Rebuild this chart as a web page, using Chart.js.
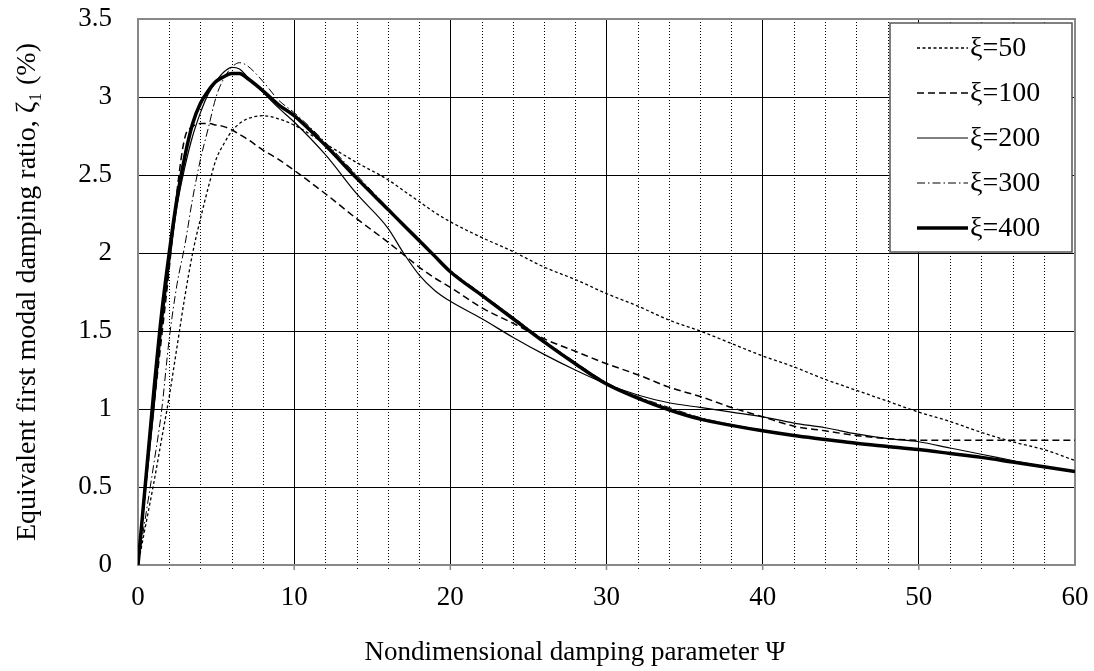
<!DOCTYPE html>
<html>
<head>
<meta charset="utf-8">
<script src="https://cdn.jsdelivr.net/npm/chart.js@4"></script>
<style>
  body { margin: 0; background: #fff; }
  #wrap { width: 1094px; height: 671px; }
</style>
</head>
<body>
<div id="wrap"><canvas id="chart" width="1094" height="671"></canvas></div>
<script>
// nondimensional damping parameter (x values shared by every curve)
const psi = [0, 0.5, 1, 1.5, 2, 2.5, 3, 3.5, 4, 4.5, 5, 5.5, 6, 6.5, 7, 8, 9, 10,
             12, 14, 16, 17, 18, 19, 20, 22, 24, 26, 28, 30, 32, 34, 36, 38, 40,
             42, 44, 46, 48, 50, 52, 54, 56, 58, 60];

// equivalent first modal damping ratio (%)
const zeta50  = [0, 0.26, 0.52, 0.8, 1.08, 1.4, 1.72, 2.0, 2.22, 2.42, 2.6, 2.7, 2.78, 2.83, 2.86, 2.88, 2.86, 2.82,
                 2.70, 2.58, 2.47, 2.40, 2.33, 2.26, 2.20, 2.10, 2.01, 1.91, 1.83, 1.74, 1.66, 1.57, 1.50, 1.42, 1.34,
                 1.27, 1.19, 1.12, 1.05, 0.98, 0.92, 0.85, 0.79, 0.74, 0.67];
const zeta100 = [0, 0.5, 1.0, 1.45, 1.9, 2.4, 2.74, 2.81, 2.83, 2.83, 2.82, 2.81, 2.79, 2.76, 2.73, 2.66, 2.60, 2.53,
                 2.38, 2.22, 2.07, 1.99, 1.91, 1.84, 1.78, 1.65, 1.55, 1.45, 1.37, 1.29, 1.22, 1.14, 1.08, 1.01, 0.95,
                 0.89, 0.86, 0.83, 0.81, 0.80, 0.80, 0.80, 0.80, 0.80, 0.80];
const zeta200 = [0, 0.5, 0.98, 1.5, 1.92, 2.3, 2.55, 2.75, 2.9, 3.02, 3.1, 3.16, 3.19, 3.18, 3.13, 3.03, 2.93, 2.84,
                 2.63, 2.38, 2.16, 2.0, 1.86, 1.76, 1.69, 1.58, 1.46, 1.35, 1.25, 1.16, 1.09, 1.04, 1.01, 0.98, 0.95,
                 0.91, 0.88, 0.84, 0.81, 0.79, 0.75, 0.71, 0.67, 0.63, 0.60];
const zeta300 = [0, 0.32, 0.64, 0.98, 1.45, 1.8, 2.05, 2.35, 2.6, 2.8, 3.0, 3.12, 3.19, 3.22, 3.2, 3.1, 2.98, 2.9,
                 2.71, 2.50, 2.29, 2.19, 2.09, 1.99, 1.89, 1.74, 1.59, 1.44, 1.30, 1.17, 1.08, 1.01, 0.945, 0.90, 0.865,
                 0.83, 0.805, 0.78, 0.76, 0.74, 0.715, 0.69, 0.66, 0.63, 0.60];
const zeta400 = [0, 0.55, 1.1, 1.6, 2.0, 2.35, 2.62, 2.83, 2.96, 3.04, 3.1, 3.13, 3.15, 3.15, 3.12, 3.04, 2.95, 2.88,
                 2.69, 2.48, 2.28, 2.18, 2.08, 1.98, 1.88, 1.73, 1.58, 1.43, 1.29, 1.16, 1.07, 0.995, 0.935, 0.895, 0.86,
                 0.83, 0.805, 0.78, 0.76, 0.74, 0.715, 0.69, 0.66, 0.63, 0.60];

const seriesLabels = ['ξ=50', 'ξ=100', 'ξ=200', 'ξ=300', 'ξ=400'];
const seriesValues = [zeta50, zeta100, zeta200, zeta300, zeta400];
const seriesDash   = [[3, 2.5], [7, 4], [], [8, 3, 1.5, 3], []];
const seriesWidth  = [1.3, 1.5, 1.2, 1.0, 3.5];

const xMajorTicks = [10, 20, 30, 40, 50];
const xMinorTicks = [2, 4, 6, 8, 12, 14, 16, 18, 22, 24, 26, 28, 32, 34, 36, 38, 42, 44, 46, 48, 52, 54, 56, 58];

const serif = "'Liberation Serif', 'Times New Roman', serif";

function toPoints(vals) {
    return psi.map((p, i) => ({x: p, y: vals[i]}));
}

// dotted minor grid, tick marks, grey frame, x title and the boxed legend
const extras = {
    id: 'extras',
    beforeDatasetsDraw(chart) {
        const {ctx, chartArea: a, scales: {x}} = chart;
        ctx.save();
        ctx.strokeStyle = '#000';
        ctx.lineWidth = 1;
        ctx.setLineDash([1, 2]);
        xMinorTicks.forEach(v => {
            const px = Math.round(x.getPixelForValue(v)) + 0.5;
            ctx.beginPath();
            ctx.moveTo(px, a.top);
            ctx.lineTo(px, a.bottom + 5);
            ctx.stroke();
        });
        ctx.setLineDash([]);
        ctx.strokeStyle = '#888';
        ctx.lineWidth = 1.5;
        xMajorTicks.forEach(v => {
            const px = x.getPixelForValue(v);
            ctx.beginPath();
            ctx.moveTo(px, a.bottom);
            ctx.lineTo(px, a.bottom + 5);
            ctx.stroke();
        });
        ctx.lineWidth = 2;
        ctx.strokeRect(a.left, a.top, a.right - a.left, a.bottom - a.top);
        ctx.restore();
    },
    afterDraw(chart) {
        const ctx = chart.ctx;
        ctx.save();
        ctx.fillStyle = '#000';
        ctx.font = '27px ' + serif;
        ctx.textAlign = 'center';
        ctx.textBaseline = 'alphabetic';
        ctx.fillText('Nondimensional damping parameter Ψ', 575, 660);

        const box = {l: 890, t: 23, w: 182, h: 229};
        ctx.fillStyle = '#fff';
        ctx.fillRect(box.l, box.t, box.w, box.h);
        ctx.strokeStyle = '#555';
        ctx.lineWidth = 1.5;
        ctx.strokeRect(box.l, box.t, box.w, box.h);
        ctx.font = '28px ' + serif;
        ctx.textAlign = 'left';
        ctx.textBaseline = 'middle';
        ctx.fillStyle = '#000';
        chart.data.datasets.forEach((ds, i) => {
            const y = 48 + i * 45;
            ctx.strokeStyle = '#000';
            ctx.lineWidth = ds.borderWidth;
            ctx.setLineDash(ds.borderDash);
            ctx.beginPath();
            ctx.moveTo(917, y);
            ctx.lineTo(968, y);
            ctx.stroke();
            ctx.setLineDash([]);
            ctx.fillText(ds.label, 970, y + 1);
        });
        ctx.restore();
    }
};

new Chart(document.getElementById('chart'), {
    type: 'line',
    data: {
        datasets: seriesLabels.map((lab, i) => ({
            label: lab,
            data: toPoints(seriesValues[i]),
            borderColor: '#000',
            borderWidth: seriesWidth[i],
            borderDash: seriesDash[i],
            pointRadius: 0,
            fill: false,
            cubicInterpolationMode: 'monotone'
        }))
    },
    options: {
        responsive: false,
        animation: false,
        layout: {padding: {left: 0, right: 19, top: 19, bottom: 0}},
        plugins: {legend: {display: false}, tooltip: {enabled: false}},
        scales: {
            x: {
                type: 'linear',
                min: 0, max: 60,
                afterFit: s => { s.height = 106; },
                ticks: {stepSize: 10, color: '#000', padding: 0, font: {family: serif, size: 27}},
                grid: {
                    color: c => (c.tick.value === 0 || c.tick.value === 60) ? 'rgba(0,0,0,0)' : '#000',
                    lineWidth: 1, tickLength: 17, tickColor: 'rgba(0,0,0,0)'
                },
                border: {display: false},
                title: {display: false}
            },
            y: {
                min: 0, max: 3.5,
                afterFit: s => { s.width = 138; },
                ticks: {stepSize: 0.5, color: '#000', padding: 0, font: {family: serif, size: 27},
                        callback: v => String(v)},
                grid: {
                    color: c => (c.tick.value === 0 || c.tick.value === 3.5) ? 'rgba(0,0,0,0)' : '#000',
                    lineWidth: 1, tickLength: 26, tickColor: 'rgba(0,0,0,0)'
                },
                border: {display: false},
                title: {display: true, text: 'Equivalent first modal damping ratio, ζ₁ (%)', color: '#000',
                        font: {family: serif, size: 28}, padding: {top: 11, bottom: 0}}
            }
        }
    },
    plugins: [extras]
});
</script>
</body>
</html>
